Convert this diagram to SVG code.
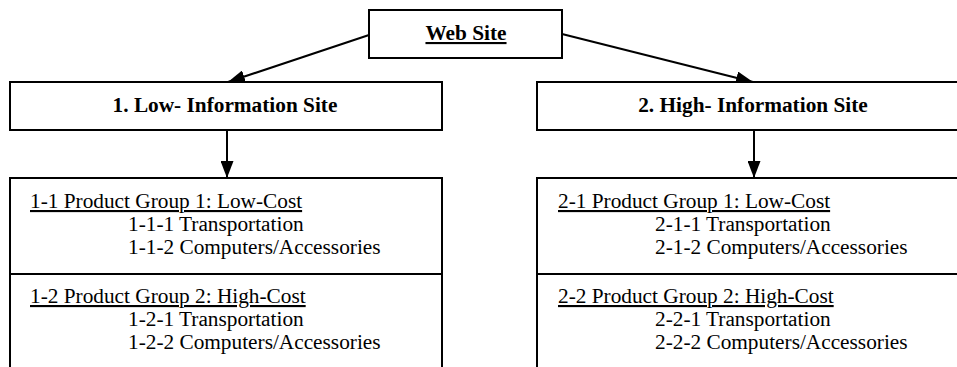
<svg xmlns="http://www.w3.org/2000/svg" width="957" height="367" viewBox="0 0 957 367">
<style>
  .box { fill: #fff; stroke: #000; stroke-width: 2; }
  .title { font-family: "Liberation Serif", "Times New Roman", serif; font-size: 21.3px; font-weight: bold; fill: #000; text-anchor: middle; }
  .item { font-family: "Liberation Serif", "Times New Roman", serif; font-size: 21.3px; fill: #000; }
  .u { text-decoration: underline; }
  .conn { stroke: #000; stroke-width: 2; fill: none; marker-end: url(#arrow); }
</style>
<defs>
  <marker id="arrow" viewBox="0 0 17 13" refX="17" refY="6.5" markerWidth="17" markerHeight="13" markerUnits="userSpaceOnUse" orient="auto">
    <path d="M0,0 L17,6.5 L0,13 Z" fill="#000"/>
  </marker>
</defs>
<g id="connectors">
  <line class="conn" x1="369" y1="35" x2="228" y2="82"/>
  <line class="conn" x1="562" y1="34" x2="753" y2="82"/>
  <line class="conn" x1="227" y1="130" x2="227" y2="178"/>
  <line class="conn" x1="754" y1="130" x2="754" y2="178"/>
</g>
<g id="web-site">
  <rect class="box" x="369" y="10" width="193" height="48"/>
  <text class="title u" x="466" y="40">Web Site</text>
</g>
<g id="low-info-site">
  <rect class="box" x="10" y="82" width="432" height="48"/>
  <text class="title" x="225" y="112">1. Low- Information Site</text>
</g>
<g id="high-info-site">
  <rect class="box" x="537" y="82" width="433" height="48"/>
  <text class="title" x="753" y="112">2. High- Information Site</text>
</g>
<g id="low-products">
  <rect class="box" x="10" y="178" width="432" height="200"/>
  <line x1="10" y1="274" x2="442" y2="274" stroke="#000" stroke-width="2"/>
  <text class="item u" x="30" y="208">1-1 Product Group 1: Low-Cost</text>
  <text class="item" x="128" y="231">1-1-1 Transportation</text>
  <text class="item" x="128" y="254">1-1-2 Computers/Accessories</text>
  <text class="item u" x="30" y="303">1-2 Product Group 2: High-Cost</text>
  <text class="item" x="128" y="326">1-2-1 Transportation</text>
  <text class="item" x="128" y="349">1-2-2 Computers/Accessories</text>
</g>
<g id="high-products">
  <rect class="box" x="537" y="178" width="433" height="200"/>
  <line x1="537" y1="274" x2="970" y2="274" stroke="#000" stroke-width="2"/>
  <text class="item u" x="558" y="208">2-1 Product Group 1: Low-Cost</text>
  <text class="item" x="655" y="231">2-1-1 Transportation</text>
  <text class="item" x="655" y="254">2-1-2 Computers/Accessories</text>
  <text class="item u" x="558" y="303">2-2 Product Group 2: High-Cost</text>
  <text class="item" x="655" y="326">2-2-1 Transportation</text>
  <text class="item" x="655" y="349">2-2-2 Computers/Accessories</text>
</g>
</svg>
